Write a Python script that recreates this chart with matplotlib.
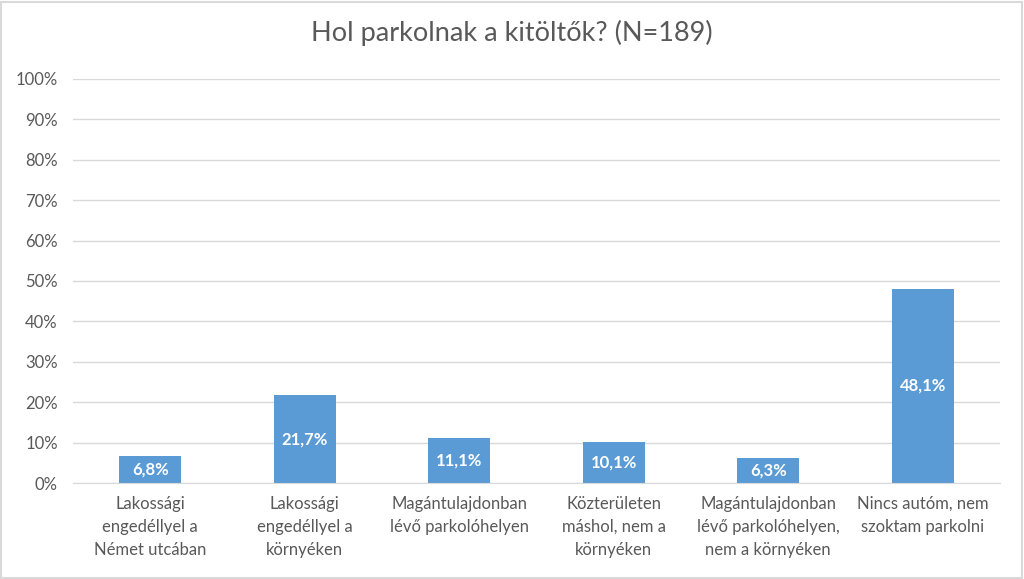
import matplotlib
matplotlib.use("Agg")
import matplotlib.pyplot as plt
from matplotlib.patches import Rectangle

categories = [
    "Lakossági\nengedéllyel a\nNémet utcában",
    "Lakossági\nengedéllyel a\nkörnyéken",
    "Magántulajdonban\nlévő parkolóhelyen",
    "Közterületen\nmáshol, nem a\nkörnyéken",
    "Magántulajdonban\nlévő parkolóhelyen,\nnem a környéken",
    "Nincs autóm, nem\nszoktam parkolni",
]
shares = [6.8, 21.7, 11.1, 10.1, 6.3, 48.1]
yticks = [0, 10, 20, 30, 40, 50, 60, 70, 80, 90, 100]

BAR = "#5B9BD5"
TEXT = "#595959"
GRID = "#D9D9D9"

plt.rcParams["font.family"] = ["Lato", "DejaVu Sans"]

fig = plt.figure(figsize=(10.24, 5.79), dpi=100)
ax = fig.add_axes([0.0713, 0.1658, 0.9053, 0.6978])

x = range(len(shares))
bars = ax.bar(x, shares, width=0.4, color=BAR, zorder=3)
for rect, v in zip(bars, shares):
    ax.text(rect.get_x() + rect.get_width() / 2, v / 2,
            f"{v:.1f}%".replace(".", ","), ha="center", va="center",
            color="white", fontsize=12, fontweight="bold", zorder=4)

ax.set_xlim(-0.5, len(shares) - 0.5)
ax.set_ylim(0, 100)
ax.set_yticks(yticks)
ax.set_yticklabels([f"{t}%" for t in yticks], fontsize=12, color=TEXT)
ax.set_xticks(list(x))
ax.set_xticklabels(categories, fontsize=12, color=TEXT, linespacing=1.55)
ax.tick_params(axis="both", length=0)
ax.tick_params(axis="y", pad=11)
ax.tick_params(axis="x", pad=9)
ax.grid(axis="y", color=GRID, lw=1, zorder=0)
for s in ["top", "right", "left"]:
    ax.spines[s].set_visible(False)
ax.spines["bottom"].set_color(GRID)
ax.spines["bottom"].set_zorder(5)

fig.suptitle("Hol parkolnak a kitöltők? (N=189)", y=0.965,
             fontsize=19.5, color=TEXT)

fig.patches.append(Rectangle((0.001, 0.002), 0.997, 0.995,
                             transform=fig.transFigure, fill=False,
                             edgecolor=GRID, lw=1.5))

fig.savefig("out.png", dpi=100, facecolor="white")
